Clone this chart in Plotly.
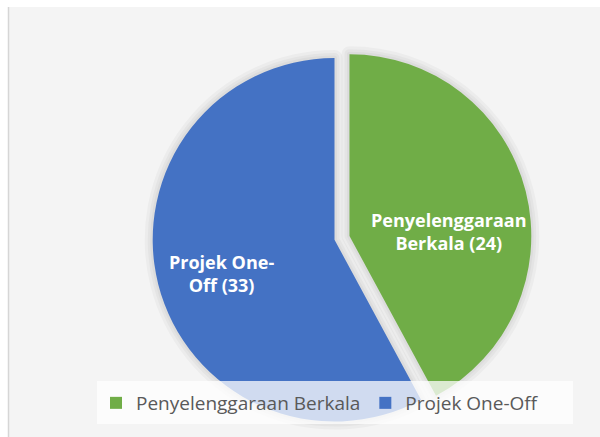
import plotly.graph_objects as go

# Data
labels = ["Penyelenggaraan Berkala", "Projek One-Off"]
values = [24, 33]
label_templates = ["Penyelenggaraan<br>Berkala ({})", "Projek One-<br>Off ({})"]
colors = ["#70AD47", "#4472C4"]
pulls = [0.085, 0]

W, H = 600, 437
slice_text = [t.format(v) for t, v in zip(label_templates, values)]

# Pie box (pixels): sized so the exploded slice still fits inside the figure
box_h = 394.5
cx = 334.5
half_w = 205
domain = dict(x=[(cx - half_w) / W, (cx + half_w) / W], y=[0, box_h / H])

# Data-label anchor points (pixels from top-left)
label_pos = [(449, 232), (221.5, 273.5)]

fig = go.Figure()

# Soft drop shadow: the same pie stroked with faint wide outlines underneath
for width in (16, 10, 5):
    fig.add_trace(
        go.Pie(
            labels=labels,
            values=values,
            textinfo="none",
            marker=dict(colors=["rgba(0,0,0,0)"] * len(values),
                        line=dict(color="rgba(0,0,0,0.03)", width=width)),
            pull=pulls,
            sort=False,
            direction="clockwise",
            rotation=0,
            domain=domain,
            hoverinfo="skip",
            showlegend=False,
        )
    )

fig.add_trace(
    go.Pie(
        labels=labels,
        values=values,
        textinfo="none",
        marker=dict(colors=colors, line=dict(width=0)),
        pull=pulls,
        sort=False,
        direction="clockwise",
        rotation=0,
        domain=domain,
        hoverinfo="label+value+percent",
    )
)

annotations = [
    dict(
        text=txt, x=px / W, y=1 - py / H, xref="paper", yref="paper",
        xanchor="center", yanchor="middle", showarrow=False, align="center",
        font=dict(family="Open Sans", size=18, color="white", weight="bold"),
    )
    for txt, (px, py) in zip(slice_text, label_pos)
]

shapes = [
    # chart area background
    dict(type="rect", xref="paper", yref="paper", x0=9 / W, x1=1, y0=0, y1=(H - 7) / H,
         fillcolor="#f4f4f4", line=dict(width=0), layer="below"),
    # left border of chart area
    dict(type="line", xref="paper", yref="paper", x0=8.5 / W, x1=8.5 / W, y0=0, y1=(H - 7) / H,
         line=dict(color="#d6d6d6", width=1.5), layer="below"),
    # translucent legend panel
    dict(type="rect", xref="paper", yref="paper", x0=97 / W, x1=573 / W,
         y0=(H - 424) / H, y1=(H - 381) / H,
         fillcolor="rgba(255,255,255,0.75)", line=dict(width=0), layer="above"),
]

fig.update_layout(
    width=W,
    height=H,
    margin=dict(l=0, r=0, t=0, b=0),
    paper_bgcolor="white",
    plot_bgcolor="white",
    shapes=shapes,
    annotations=annotations,
    showlegend=True,
    legend=dict(
        orientation="h",
        x=96 / W,
        xanchor="left",
        y=(H - 403) / H,
        yanchor="middle",
        bgcolor="rgba(0,0,0,0)",
        font=dict(family="Open Sans", size=19, color="#595959"),
    ),
)

fig.write_html("out.html")
